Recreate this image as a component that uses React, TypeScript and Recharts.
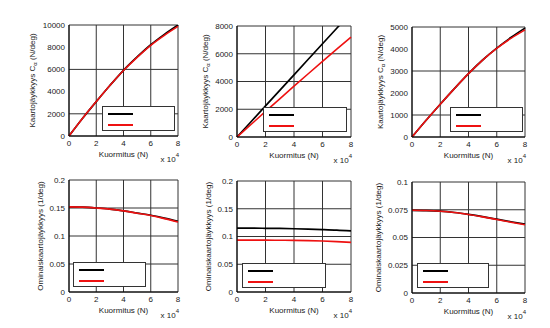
import { LineChart, Line, XAxis, YAxis, CartesianGrid, Legend, Label } from 'recharts'

// load in N, plotted as x 10^4
const loadN = [0, 10000, 20000, 30000, 40000, 50000, 60000, 70000, 80000]
const loadTicks = [0, 20000, 40000, 60000, 80000]

// cornering stiffness C_alpha (N/deg)
const stiffFrontBlack = [0, 1600, 3100, 4550, 5920, 7120, 8220, 9160, 10000]
const stiffFrontRed = [0, 1600, 3100, 4550, 5900, 7090, 8170, 9070, 9870]
const stiffMidBlack = [0, 1120, 2240, 3360, 4480, 5600, 6720, 7840, 8960]
const stiffMidRed = [0, 920, 1840, 2750, 3660, 4560, 5450, 6330, 7200]
const stiffRearBlack = [0, 760, 1490, 2200, 2880, 3500, 4040, 4520, 4950]
const stiffRearRed = [0, 760, 1490, 2200, 2880, 3495, 4025, 4480, 4870]

// cornering coefficient (1/deg)
const coefFrontBlack = [0.152, 0.1515, 0.150, 0.148, 0.145, 0.141, 0.137, 0.132, 0.126]
const coefFrontRed = [0.152, 0.1515, 0.150, 0.148, 0.1448, 0.1406, 0.1365, 0.131, 0.125]
const coefMidBlack = [0.115, 0.115, 0.1148, 0.1145, 0.114, 0.1133, 0.1125, 0.1115, 0.110]
const coefMidRed = [0.0935, 0.0935, 0.0934, 0.0932, 0.093, 0.0925, 0.0918, 0.0908, 0.0895]
const coefRearBlack = [0.0745, 0.0743, 0.0737, 0.0725, 0.0708, 0.0688, 0.0665, 0.0642, 0.062]
const coefRearRed = [0.0745, 0.0743, 0.0737, 0.0725, 0.0707, 0.0686, 0.0662, 0.0638, 0.0615]

const stiffTicksFront = [0, 2000, 4000, 6000, 8000, 10000]
const stiffTicksMid = [0, 2000, 4000, 6000, 8000]
const stiffTicksRear = [0, 1000, 2000, 3000, 4000, 5000]
const coefTicks = [0, 0.05, 0.1, 0.15, 0.2]
const coefTicksRear = [0, 0.025, 0.05, 0.075, 0.1]

const FONT = '"Liberation Sans", Arial, sans-serif'
const TEXT = '#1a1a1a'
const RED = '#ee1111'
const Y_W = 40
const X_H = 26

type Panel = {
  black: number[]
  red: number[]
  ticks: number[]
  kind: 'stiff' | 'coef'
  cell: [number, number, number, number] // x, y, w, h
  plot: [number, number, number, number] // left, top, right, bottom
  legend: [number, number, number] // x, y, w
  labelDx: number
}

const panels: Panel[] = [
  { black: stiffFrontBlack, red: stiffFrontRed, ticks: stiffTicksFront, kind: 'stiff', cell: [0, 0, 183, 172], plot: [69, 25, 178, 136], legend: [102, 106, 73], labelDx: 37 },
  { black: stiffMidBlack, red: stiffMidRed, ticks: stiffTicksMid, kind: 'stiff', cell: [183, 0, 183, 172], plot: [237, 26, 351, 137], legend: [263, 107, 84], labelDx: 32 },
  { black: stiffRearBlack, red: stiffRearRed, ticks: stiffTicksRear, kind: 'stiff', cell: [366, 0, 184, 172], plot: [412, 27, 525, 137], legend: [450, 107, 73], labelDx: 32 },
  { black: coefFrontBlack, red: coefFrontRed, ticks: coefTicks, kind: 'coef', cell: [0, 164, 183, 164], plot: [69, 180, 178, 292], legend: [73, 262, 73], labelDx: 29 },
  { black: coefMidBlack, red: coefMidRed, ticks: coefTicks, kind: 'coef', cell: [183, 164, 183, 164], plot: [237, 181, 351, 292], legend: [242, 263, 84], labelDx: 29 },
  { black: coefRearBlack, red: coefRearRed, ticks: coefTicksRear, kind: 'coef', cell: [366, 164, 184, 164], plot: [412, 182, 525, 293], legend: [417, 263, 72], labelDx: 34 },
]

function LegendBox({ w }: { w: number }) {
  return (
    <div style={{ width: w, height: 25, boxSizing: 'border-box', border: '1px solid #333', background: '#fff', position: 'relative' }}>
      <div style={{ position: 'absolute', left: 5, top: 6, width: 25, height: 2, background: '#000' }} />
      <div style={{ position: 'absolute', left: 5, top: 17, width: 25, height: 2, background: RED }} />
    </div>
  )
}

function PanelChart({ p }: { p: Panel }) {
  const [cx, cy, cw, ch] = p.cell
  const [l, t, r, b] = p.plot
  const data = loadN.map((x, i) => ({ x, black: p.black[i], red: p.red[i] }))
  const margin = { left: l - cx - Y_W, top: t - cy, right: cx + cw - r, bottom: cy + ch - b - X_H }

  const yLabel = (props: any) => {
    const vb = props.viewBox
    const x = vb.x + vb.width - p.labelDx
    const y = vb.y + vb.height / 2
    return (
      <text x={x} y={y} transform={`rotate(-90 ${x} ${y})`} textAnchor="middle" dominantBaseline="central" fontSize={8} fontFamily={FONT} fill={TEXT}>
        {p.kind === 'stiff' ? (
          <>
            Kaartojäykkyys C<tspan dy={3} fontSize={6}>α</tspan>
            <tspan dy={-3}> (N/deg)</tspan>
          </>
        ) : (
          'Ominaiskaartojäykkyys (1/deg)'
        )}
      </text>
    )
  }

  const xLabel = (props: any) => {
    const vb = props.viewBox
    return (
      <text x={vb.x + vb.width / 2} y={vb.y + 21} textAnchor="middle" fontSize={8} fontFamily={FONT} fill={TEXT}>
        Kuormitus (N)
      </text>
    )
  }

  const xScale = (props: any) => {
    const vb = props.viewBox
    return (
      <text x={vb.x + vb.width + 1} y={vb.y + 26} textAnchor="end" fontSize={8} fontFamily={FONT} fill={TEXT}>
        x 10<tspan dy={-5} fontSize={6}>4</tspan>
      </text>
    )
  }

  return (
    <div style={{ position: 'absolute', left: cx, top: cy }}>
      <LineChart width={cw} height={ch} data={data} margin={margin}>
        <CartesianGrid stroke="#333" strokeWidth={1} />
        <XAxis
          dataKey="x"
          type="number"
          domain={[0, 80000]}
          ticks={loadTicks}
          tickFormatter={(v: number) => String(v / 10000)}
          height={X_H}
          tickSize={0}
          tickMargin={4}
          axisLine={{ stroke: '#000' }}
          tick={{ fontSize: 8, fontFamily: FONT, fill: TEXT }}
        >
          <Label content={xLabel} />
          <Label content={xScale} />
        </XAxis>
        <YAxis
          type="number"
          domain={[0, p.ticks[p.ticks.length - 1]]}
          ticks={p.ticks}
          allowDataOverflow
          width={Y_W}
          tickSize={0}
          tickMargin={4}
          axisLine={{ stroke: '#000' }}
          tick={{ fontSize: 8, fontFamily: FONT, fill: TEXT }}
        >
          <Label content={yLabel} />
        </YAxis>
        <Legend
          layout="horizontal"
          verticalAlign="middle"
          align="center"
          wrapperStyle={{ left: p.legend[0] - cx, top: p.legend[1] - cy, width: p.legend[2], height: 25 }}
          content={() => <LegendBox w={p.legend[2]} />}
        />
        <Line type="monotone" dataKey="black" stroke="#000" strokeWidth={1.7} dot={false} isAnimationActive={false} />
        <Line type="monotone" dataKey="red" stroke={RED} strokeWidth={1.6} dot={false} isAnimationActive={false} />
      </LineChart>
    </div>
  )
}

export default function App() {
  return (
    <div style={{ position: 'absolute', left: 0, top: 0, width: 550, height: 328, background: '#fff' }}>
      {panels.map((p, i) => (
        <PanelChart key={i} p={p} />
      ))}
    </div>
  )
}
